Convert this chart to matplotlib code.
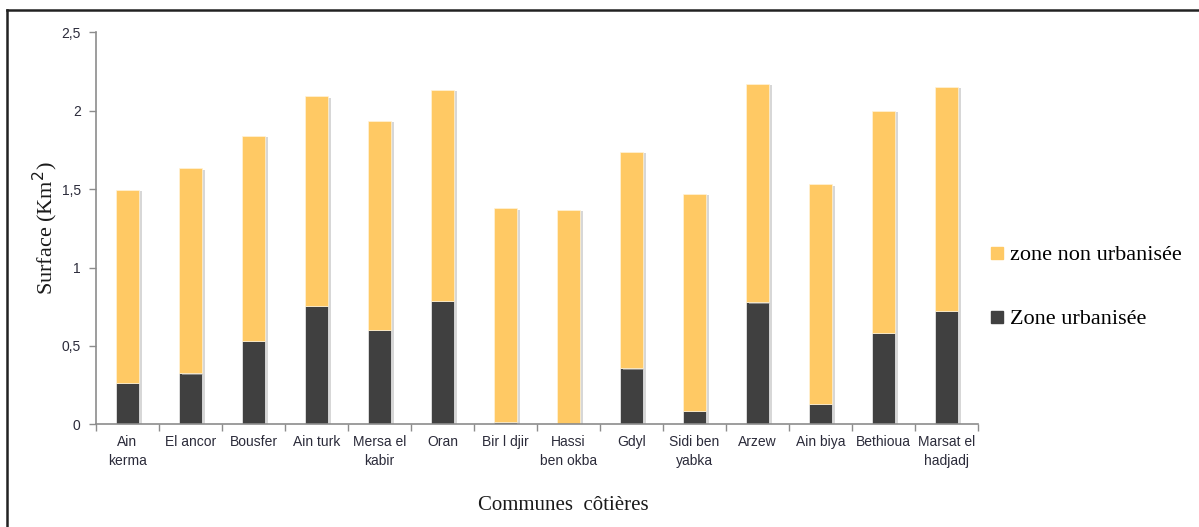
import matplotlib.pyplot as plt
from matplotlib.lines import Line2D
import matplotlib.patheffects as pe
import numpy as np

communes = ["Ain\nkerma", "El ancor", "Bousfer", "Ain turk", "Mersa el\nkabir",
            "Oran", "Bir l djir", "Hassi\nben okba", "Gdyl", "Sidi ben\nyabka",
            "Arzew", "Ain biya", "Bethioua", "Marsat el\nhadjadj"]
zone_urbanisee = [0.265, 0.325, 0.533, 0.756, 0.601, 0.788, 0.015, 0.0,
                  0.357, 0.087, 0.778, 0.129, 0.584, 0.724]
surface_totale = [1.497, 1.633, 1.839, 2.092, 1.934, 2.132, 1.378, 1.367,
                  1.737, 1.471, 2.172, 1.531, 1.998, 2.151]
zone_non_urbanisee = [t - u for t, u in zip(surface_totale, zone_urbanisee)]
yticks = [0, 0.5, 1, 1.5, 2, 2.5]
ytick_labels = ["0", "0,5", "1", "1,5", "2", "2,5"]

col_urb = "#404040"
col_non = "#FFC964"
axis_col = "#8c8c8c"
label_col = "#2b2b3a"

fig = plt.figure(figsize=(11.99, 5.27), dpi=100)
ax = fig.add_axes([96 / 1199, 1 - 424.3 / 527, (978 - 96) / 1199, (424.3 - 32.3) / 527])

x = np.arange(len(communes))
w = 0.36
shadow = [pe.SimplePatchShadow(offset=(2, -1), shadow_rgbFace="#bdbdbd", alpha=0.6), pe.Normal()]
b1 = ax.bar(x, zone_urbanisee, w, color=col_urb, edgecolor="#f2f2f2", linewidth=0.5)
b2 = ax.bar(x, zone_non_urbanisee, w, bottom=zone_urbanisee, color=col_non,
            edgecolor="#fff3d8", linewidth=0.5)
for bar in list(b1) + list(b2):
    bar.set_path_effects(shadow)

ax.set_xlim(-0.5, len(communes) - 0.5)
ax.set_ylim(0, 2.5)
ax.set_yticks(yticks)
ax.set_yticklabels(ytick_labels, fontsize=10, color=label_col, family="Liberation Sans")
ax.set_xticks(x)
ax.set_xticklabels(communes, fontsize=10, color=label_col, family="Liberation Sans",
                   linespacing=1.45)
ax.set_xticks(np.arange(-0.5, len(communes)), minor=True)
ax.tick_params(axis="x", which="major", length=0, pad=8)
ax.tick_params(axis="x", which="minor", length=5, color=axis_col, width=1)
ax.tick_params(axis="y", length=5, color=axis_col, width=1, pad=6)

for s in ["top", "right"]:
    ax.spines[s].set_visible(False)
for s in ["left", "bottom"]:
    ax.spines[s].set_color(axis_col)
    ax.spines[s].set_linewidth(1.2)

fig.text(45 / 1199, 1 - 228 / 527, "Surface (Km$^2$)", rotation=90, ha="center", va="center",
         fontsize=16, family="Liberation Serif", color="#1a1a1a")
fig.text(563 / 1199, 1 - 505 / 527, "Communes  côtières", ha="center", va="center",
         fontsize=15, family="Liberation Serif", color="#1a1a1a")

handles = [Line2D([], [], marker="s", linestyle="none", markersize=8, color=col_non),
           Line2D([], [], marker="s", linestyle="none", markersize=8, color=col_urb)]
fig.legend(handles, ["zone non urbanisée", "Zone urbanisée"], loc="upper left",
           bbox_to_anchor=(977 / 1199, 1 - 236 / 527), frameon=False,
           prop={"family": "Liberation Serif", "size": 16}, handletextpad=0.1,
           handlelength=1.0, labelspacing=1.95, borderaxespad=0)

# page frame: top and left rules
fig.add_artist(Line2D([7 / 1199, 1.0], [1 - 10 / 527, 1 - 10 / 527], transform=fig.transFigure,
                      color="#222222", linewidth=1.8))
fig.add_artist(Line2D([7 / 1199, 7 / 1199], [0, 1 - 10 / 527], transform=fig.transFigure,
                      color="#222222", linewidth=1.8))

fig.savefig("out.png", dpi=100, facecolor="white")
